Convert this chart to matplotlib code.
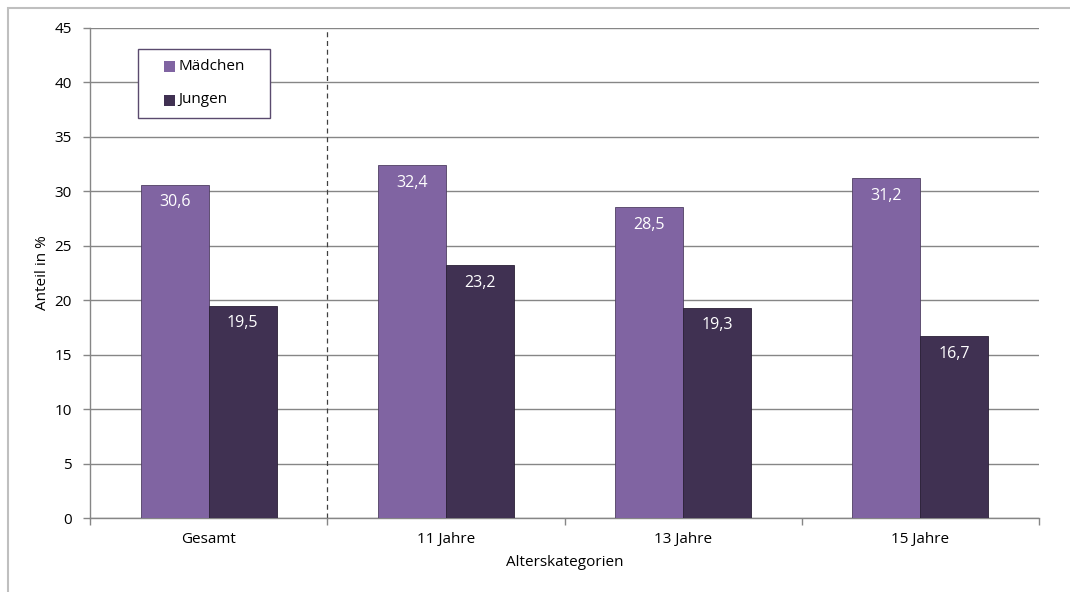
import numpy as np
import matplotlib.pyplot as plt
import matplotlib.ticker as ticker
from matplotlib.patches import Rectangle

plt.rcParams['font.family'] = ['Open Sans', 'DejaVu Sans']

kategorien = ['Gesamt', '11 Jahre', '13 Jahre', '15 Jahre']
maedchen = [30.6, 32.4, 28.5, 31.2]
jungen = [19.5, 23.2, 19.3, 16.7]
serien = ['Mädchen', 'Jungen']

farbe_m = '#8064a2'
farbe_j = '#403152'
grau = '#868686'

W, H = 1070, 592
fig = plt.figure(figsize=(W / 100, H / 100), dpi=100)
ax = fig.add_axes([90 / W, 74 / H, 949 / W, 490.3 / H])


def fx(px):
    return px / W


def fy(py):
    return 1 - py / H


# outer chart frame
fig.patches.append(Rectangle((fx(8), -0.01), 1.1, fy(8) + 0.01,
                             transform=fig.transFigure, fill=False,
                             edgecolor='#bfbfbf', lw=1.5))

x = np.arange(len(kategorien))
w = 0.287
b1 = ax.bar(x - w / 2, maedchen, w, color=farbe_m, edgecolor='#4f3f63', lw=0.6,
            label=serien[0], zorder=3)
b2 = ax.bar(x + w / 2, jungen, w, color=farbe_j, edgecolor='#2a2036', lw=0.6,
            label=serien[1], zorder=3)

for bars, vals in ((b1, maedchen), (b2, jungen)):
    for r, v in zip(bars, vals):
        ax.annotate(f'{v:.1f}'.replace('.', ','), (r.get_x() + r.get_width() / 2, v),
                    xytext=(0, -7), textcoords='offset points', ha='center', va='top',
                    color='white', fontsize=11.5, zorder=4)

ax.set_xlim(-0.5, 3.5)
ax.set_ylim(0, 45)
ax.yaxis.set_major_locator(ticker.MultipleLocator(5))
ax.grid(axis='y', color=grau, lw=1, zorder=0)
ax.set_axisbelow(True)

ax.axvline(0.5, color='#404040', lw=0.9, ls=(0, (4, 3)), zorder=2)

ax.set_xticks(x)
ax.set_xticklabels(kategorien, fontsize=11)
ax.set_xticks(np.arange(-0.5, 4, 1), minor=True)
ax.tick_params(axis='x', which='major', length=0, pad=10)
ax.tick_params(axis='x', which='minor', length=5, color=grau, width=1)
ax.tick_params(axis='y', length=5, color=grau, width=1, labelsize=11, pad=8)

for s in ('top', 'right'):
    ax.spines[s].set_visible(False)
for s in ('left', 'bottom'):
    ax.spines[s].set_color(grau)
    ax.spines[s].set_linewidth(1)

ax.set_xlabel('Alterskategorien', fontsize=11, labelpad=6)
ax.set_ylabel('Anteil in %', fontsize=11, labelpad=3)

# legend box drawn in figure pixels
fig.patches.append(Rectangle((fx(138), fy(118)), fx(270) - fx(138), fy(49) - fy(118),
                             transform=fig.transFigure, facecolor='white',
                             edgecolor='#5a4a6e', lw=1, zorder=5))
for name, col, yc in ((serien[0], farbe_m, 66), (serien[1], farbe_j, 100)):
    fig.patches.append(Rectangle((fx(164), fy(yc + 5.5)), fx(175) - fx(164), fy(yc - 5.5) - fy(yc + 5.5),
                                 transform=fig.transFigure, facecolor=col,
                                 edgecolor='none', zorder=6))
    fig.text(fx(178), fy(yc), name, fontsize=11, va='center', ha='left', zorder=6)

fig.savefig('out.png', dpi=100)
